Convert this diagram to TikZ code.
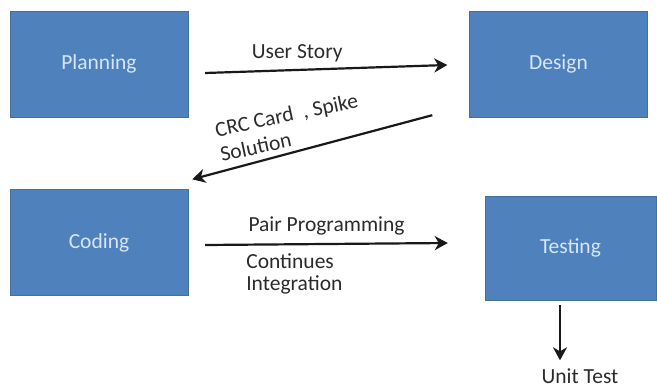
\documentclass[tikz,border=0pt]{standalone}
\usepackage{fontspec}
\setmainfont{Carlito}
\usetikzlibrary{arrows.meta}
\definecolor{phaseblue}{HTML}{4F81BD}
\definecolor{phaseedge}{HTML}{41719C}
\definecolor{phasetext}{HTML}{D6E6F6}
\definecolor{lbltext}{HTML}{2B2B2B}

\begin{document}
\begin{tikzpicture}[x=1pt, y=-1pt,
    font=\fontsize{21.5}{22}\selectfont,
    phase/.style={draw=phaseedge, fill=phaseblue, text=phasetext,
      minimum width=178pt, minimum height=106pt, inner sep=0pt},
    flow/.style={-{Stealth[length=13pt, width=14pt, inset=4pt]},
      line width=2.2pt, black!90},
    lbl/.style={text=lbltext, inner sep=0pt, align=left}]
  \useasboundingbox (0,0) rectangle (657,388);
  \node[phase] (planning) at (99,64) {Planning};
  \node[phase] (design) at (558.5,64) {Design};
  \node[phase] (coding) at (99,242.5) {Coding};
  \node[phase, minimum width=171pt, minimum height=104pt] (testing) at (570.5,248) {Testing};
  \node[lbl] (unit) at (580,376) {Unit Test};
  \node[lbl, rotate=12, font=\fontsize{21.5}{25}\selectfont] (crc) at (289,127) {CRC Card\ \ , Spike\\Solution};
  \draw[flow] ([shift={(17,9)}]planning.east) -- ([shift={(-22,1)}]design.west)
    node[lbl, pos=0.38, above=7pt] {User Story};
  \draw[flow] ([shift={(-37,-2)}]design.south west) -- ([shift={(4,-10)}]coding.north east);
  \draw[flow] ([shift={(17,2.5)}]coding.east) -- ([shift={(-37,-5)}]testing.west)
    node[lbl, midway, above=8pt] {Pair Programming}
    node[lbl, pos=0.165, anchor=north west, yshift=-8pt] {Continues\\Integration};
  \draw[flow, shorten <=5pt, shorten >=8pt] ([xshift=-10.5pt]testing.south)
    -- ([xshift=-10.5pt]testing.south |- unit.north);
\end{tikzpicture}
\end{document}
